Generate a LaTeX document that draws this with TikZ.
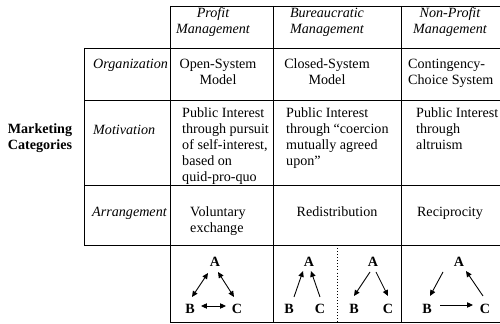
\documentclass[tikz,border=0pt]{standalone}
\usepackage{fontspec}
\setmainfont{Liberation Serif}
\usetikzlibrary{arrows.meta,calc}
\newcommand\cellL[1]{\begin{tabular}[t]{@{}l@{}}#1\end{tabular}}
\newcommand\cellC[1]{\begin{tabular}[t]{@{}c@{}}#1\end{tabular}}
\begin{document}
\begin{tikzpicture}[x=0.85pt,y=-0.85pt,
  every node/.style={font=\fontsize{12}{13.6}\selectfont, inner sep=0pt},
  grid/.style={line width=0.8pt},
  tx/.style={anchor=base west},
  txc/.style={anchor=base},
  itx/.style={anchor=base west, font=\fontsize{12}{13.6}\selectfont\itshape},
  hd/.style={anchor=base, font=\fontsize{12}{13.6}\selectfont\itshape},
  bx/.style={anchor=base, font=\fontsize{12}{13.6}\selectfont\bfseries},
  lt/.style={anchor=center, font=\fontsize{12}{13.6}\selectfont\bfseries},
  >={Triangle[length=5pt,width=4.5pt]},
  one/.style={line width=0.75pt,->},
  two/.style={line width=0.75pt,<->}]
\useasboundingbox (0,0) rectangle (500,324);

% grid
\draw[grid] (170,6) -- (500,6);
\draw[grid] (84,48) -- (500,48);
\draw[grid] (84,100) -- (500,100);
\draw[grid] (84,185) -- (500,185);
\draw[grid] (84,245) -- (500,245);
\draw[grid] (170,322) -- (500,322);
\draw[grid] (84,48) -- (84,245);
\draw[grid] (170,6) -- (170,322);
\draw[grid] (273,6) -- (273,322);
\draw[grid] (401,6) -- (401,322);
\draw[dotted, line width=0.6pt] (337,245) -- (337,322);

% header
\node[hd] (h1) at (213,18) {\cellC{Profit\\Management}};
\node[hd] (h2) at (327,18) {\cellC{Bureaucratic\\Management}};
\node[hd] (h3) at (450,18) {\cellC{Non-Profit\\Management}};

% organization
\node[itx] (r1) at (93,69) {Organization};
\node[txc] (o1) at (218,69) {\cellC{Open-System\\Model}};
\node[txc] (o2) at (327,69) {\cellC{Closed-System\\Model}};
\node[tx] (o3) at (408,69) {\cellL{Contingency-\\Choice System}};

% motivation
\node[bx] (mk) at (40,134) {\cellC{Marketing\\Categories}};
\node[itx] (r2) at (93,135) {Motivation};
\node[tx] (m1) at (182,118) {\cellL{Public Interest\\through pursuit\\of self-interest,\\based on\\quid-pro-quo}};
\node[tx] (m2) at (286,118) {\cellL{Public Interest\\through “coercion\\mutually agreed\\upon”}};
\node[tx] (m3) at (416,118) {\cellL{Public Interest\\through\\altruism}};

% arrangement
\node[itx] (r3) at (92,217) {Arrangement};
\node[tx] (a1) at (190,217) {\cellL{Voluntary\\exchange}};
\node[txc] (a2) at (337,217) {Redistribution};
\node[txc] (a3) at (450,217) {Reciprocity};

% diagrams
\node[lt] (A1) at (215,262) {A};
\node[lt] (B1) at (190,309) {B};
\node[lt] (C1) at (237,309) {C};
\draw[two] ($(A1)+(-7,11)$) -- ($(B1)+(2,-12)$);
\draw[two] ($(A1)+(3,10)$) -- ($(C1)+(-3,-12)$);
\draw[two] ($(B1)+(11,-3)$) -- ($(C1)+(-11,-3)$);

\node[lt] (A2) at (309,262) {A};
\node[lt] (B2) at (289,309) {B};
\node[lt] (C2) at (320,309) {C};
\draw[one] ($(B2)+(5,-12)$) -- ($(A2)+(-6,9)$);
\draw[one] ($(C2)+(0,-12)$) -- ($(A2)+(2,9)$);

\node[lt] (A3) at (373,262) {A};
\node[lt] (B3) at (354,309) {B};
\node[lt] (C3) at (388,309) {C};
\draw[one] ($(A3)+(-3,10)$) -- ($(B3)+(0,-13)$);
\draw[one] ($(A3)+(3,10)$) -- ($(C3)+(0,-13)$);

\node[lt] (A4) at (459,262) {A};
\node[lt] (B4) at (427,309) {B};
\node[lt] (C4) at (485,309) {C};
\draw[one] ($(A4)+(-16,10)$) -- ($(B4)+(3,-13)$);
\draw[one] ($(C4)+(-2,-13)$) -- ($(A4)+(7,9)$);
\draw[one] ($(B4)+(13,-4)$) -- ($(C4)+(-12,-4)$);
\end{tikzpicture}
\end{document}
